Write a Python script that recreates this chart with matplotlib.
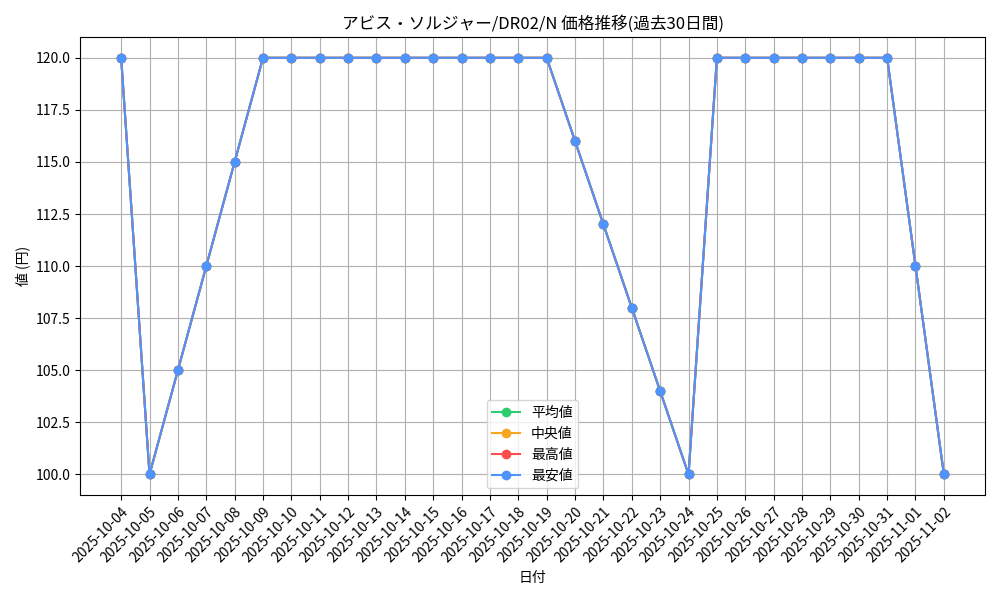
import matplotlib
matplotlib.use("Agg")
import matplotlib.pyplot as plt

plt.rcParams['font.family'] = ['Noto Sans CJK JP', 'DejaVu Sans']

dates = ["2025-10-04","2025-10-05","2025-10-06","2025-10-07","2025-10-08","2025-10-09",
         "2025-10-10","2025-10-11","2025-10-12","2025-10-13","2025-10-14","2025-10-15",
         "2025-10-16","2025-10-17","2025-10-18","2025-10-19","2025-10-20","2025-10-21",
         "2025-10-22","2025-10-23","2025-10-24","2025-10-25","2025-10-26","2025-10-27",
         "2025-10-28","2025-10-29","2025-10-30","2025-10-31","2025-11-01","2025-11-02"]
avg_vals = [120,100,105,110,115,120,120,120,120,120,120,120,120,120,120,120,116,112,108,104,100,120,120,120,120,120,120,120,110,100]
med_vals = list(avg_vals)
max_vals = list(avg_vals)
min_vals = list(avg_vals)

fig, ax = plt.subplots(figsize=(10, 6), dpi=100)
x = range(len(dates))
ax.plot(x, avg_vals, marker='o', color='#2ecc71', label='平均値')
ax.plot(x, med_vals, marker='o', color='#f5a623', label='中央値')
ax.plot(x, max_vals, marker='o', color='#ff4d4d', label='最高値')
ax.plot(x, min_vals, marker='o', color='#4d94ff', label='最安値')
ax.set_xticks(list(x))
ax.set_xticklabels(dates, rotation=45, ha='right', rotation_mode='anchor')
ax.set_title('アビス・ソルジャー/DR02/N 価格推移(過去30日間)')
ax.set_xlabel('日付')
ax.set_ylabel('値 (円)')
ax.grid(True)
ax.legend(loc='lower center')
fig.tight_layout()
fig.savefig('out.png')
